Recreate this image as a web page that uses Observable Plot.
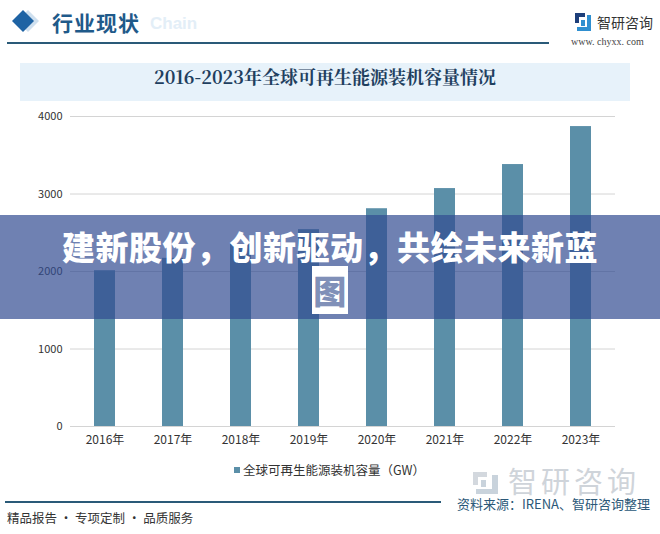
<!DOCTYPE html>
<html>
<head>
<meta charset="utf-8">
<script src="https://cdn.jsdelivr.net/npm/d3@7"></script>
<script src="https://cdn.jsdelivr.net/npm/@observablehq/plot@0.6"></script>
<style>
  html, body { margin: 0; padding: 0; background: #fff; }
  body { width: 660px; height: 534px; position: relative; overflow: hidden; font-family: "Noto Sans CJK SC", "Noto Sans", sans-serif; }
  .abs { position: absolute; }
</style>
</head>
<body>
<script>
const years = ["2016", "2017", "2018", "2019", "2020", "2021", "2022", "2023"];
const capacity = [2010, 2170, 2350, 2540, 2810, 3070, 3380, 3870];
const yTicks = [0, 1000, 2000, 3000, 4000];
const seriesName = "全球可再生能源装机容量（GW）";
const chartTitle = "2016-2023年全球可再生能源装机容量情况";
const headerText = "行业现状";
const bannerLine1 = "建新股份，创新驱动，共绘未来新蓝";
const bannerLine2 = "图";
const sourceText = "资料来源：IRENA、智研咨询整理";
const footerText = "精品报告 · 专项定制 · 品质服务";

const barColor = "#5b8fa8";
const data = years.map((y, i) => ({year: y, value: capacity[i]}));

const body = document.body;
function el(html) { const d = document.createElement("div"); d.innerHTML = html; const n = d.firstElementChild; body.appendChild(n); return n; }

// header
el(`<svg class="abs" style="left:10px;top:8px" width="36" height="28">
  <polygon points="18,2 29,13 18,24 7,13" fill="#cfe0ef"/>
  <polygon points="13,2 24,13 13,24 2,13" fill="#1e63a4"/>
</svg>`);
el(`<div class="abs" style="left:150px;top:14px;font:bold 17px 'Liberation Sans',sans-serif;color:#e3eef7">Chain</div>`);
el(`<div class="abs" style="left:52px;top:7px;font:bold 21px 'Noto Sans CJK SC';color:#1f5a8a;letter-spacing:1px">${headerText}</div>`);
el(`<div class="abs" style="left:7px;top:42px;width:542px;height:2px;background:#2a5a78"></div>`);
// logo
el(`<svg class="abs" style="left:575px;top:13px" width="17" height="18">
  <rect x="0" y="0" width="10" height="4" fill="#1e3f7a"/>
  <rect x="0" y="0" width="4" height="10" fill="#1e3f7a"/>
  <rect x="12" y="2" width="4" height="16" fill="#2f8fd0"/>
  <rect x="2" y="14" width="14" height="4" fill="#2f8fd0"/>
  <rect x="6" y="7" width="4" height="6" fill="#2f8fd0"/>
</svg>`);
el(`<div class="abs" style="left:597px;top:12px;font:14px 'Noto Sans CJK SC';color:#333">智研咨询</div>`);
el(`<div class="abs" style="left:571px;top:36px;font:10px 'Liberation Serif',serif;color:#444">www. chyxx. com</div>`);

// title box
el(`<div class="abs" style="left:20px;top:63px;width:610px;height:38px;background:#e7f2fa;text-align:center;line-height:38px;font:bold 18px 'Noto Serif CJK SC','Noto Sans CJK SC';color:#1f3f5f">${chartTitle}</div>`);

// plot
const chart = Plot.plot({
  width: 660,
  height: 350,
  marginLeft: 70,
  marginRight: 45,
  marginTop: 16,
  marginBottom: 24,
  style: {fontFamily: "'Noto Sans CJK SC', sans-serif", fontSize: "12px", color: "#333", background: "transparent"},
  x: {domain: years, paddingInner: 0.69, paddingOuter: 0.345, label: null},
  y: {domain: [0, 4000], label: null},
  marks: [
    Plot.gridY(yTicks, {stroke: "#d4d4d4", strokeOpacity: 1}),
    Plot.barY(data, {x: "year", y: "value", fill: barColor}),
    Plot.axisY(yTicks, {tickSize: 0, tickPadding: 8, label: null, fontSize: 11, fill: "#333", tickFormat: d => String(d)}),
    Plot.axisX({tickSize: 0, tickPadding: 9, label: null, fill: "#333", tickFormat: d => d + "年"})
  ]
});
chart.style.position = "absolute";
chart.style.left = "0px";
chart.style.top = "100px";
body.appendChild(chart);

// legend
el(`<div class="abs" style="left:234px;top:460px;font:12.5px 'Noto Sans CJK SC';color:#333;white-space:nowrap"><span style="display:inline-block;width:6px;height:6px;background:${barColor};margin-right:3px;vertical-align:2px"></span>${seriesName}</div>`);

// watermark bottom right (decorative)
el(`<svg class="abs" style="left:473px;top:472px" width="25" height="22">
  <rect x="0" y="0" width="14" height="5" fill="#d3d8de"/>
  <rect x="0" y="0" width="5" height="13" fill="#d3d8de"/>
  <rect x="19" y="3" width="6" height="19" fill="#c9d3dc"/>
  <rect x="3" y="17" width="22" height="5" fill="#c9d3dc"/>
  <rect x="8" y="8" width="5" height="7" fill="#c9d3dc"/>
</svg>`);
el(`<div class="abs" style="left:508px;top:466px;font:29px/29px 'Noto Sans CJK SC';color:#cfd4da;white-space:nowrap;letter-spacing:4px">智研咨询</div>`);

// bottom
el(`<div class="abs" style="left:5px;top:501px;width:436px;height:1.5px;background:#2a5a78"></div>`);
el(`<div class="abs" style="left:457px;top:497px;font:13px/14px 'Noto Sans CJK SC';color:#2b5878;white-space:nowrap">${sourceText}</div>`);
el(`<div class="abs" style="left:7px;top:508px;font:12.5px 'Noto Sans CJK SC';color:#333;white-space:nowrap">${footerText}</div>`);

// banner overlay
el(`<div class="abs" style="left:0;top:215px;width:660px;height:104px;background:rgba(50,75,145,0.7);z-index:5"></div>`);
el(`<div class="abs" style="left:0;top:224px;width:660px;text-align:center;font:900 33px 'Noto Sans CJK SC';color:#fff;z-index:6;line-height:44px;white-space:nowrap;letter-spacing:0.5px">${bannerLine1}<br><span style="background:#fff;color:#8090b8;padding:0 1px">${bannerLine2}</span></div>`);
</script>
</body>
</html>
